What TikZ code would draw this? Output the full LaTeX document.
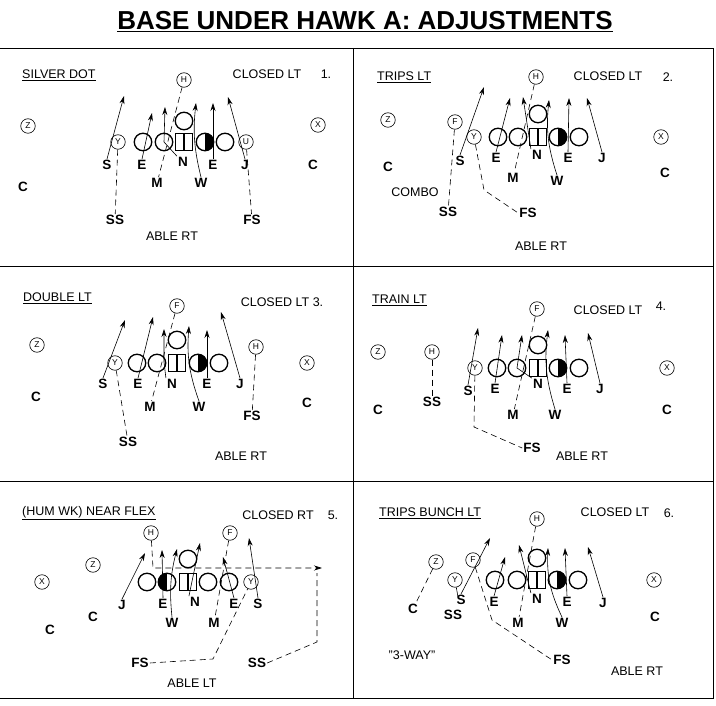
\documentclass[tikz,border=0pt]{standalone}
\usepackage{fontspec}
\setmainfont{Liberation Sans}
\usetikzlibrary{arrows.meta}
\tikzset{
  pl/.style={circle, draw, line width=0.6pt, minimum size=14.5pt, inner sep=0pt, font=\fontsize{8.5}{8.5}\selectfont},
  ln/.style={circle, draw, line width=1.3pt, minimum size=17.5pt, inner sep=0pt},
  hf/.style={ln, path picture={\fill (path picture bounding box.north) rectangle (path picture bounding box.south east);}},
  hfl/.style={ln, path picture={\fill (path picture bounding box.north) rectangle (path picture bounding box.south west);}},
  sq/.style={rectangle, draw, line width=1.3pt, minimum size=17pt, inner sep=0pt, path picture={\draw[line width=1.3pt] (path picture bounding box.north) -- (path picture bounding box.south);}},
  lb/.style={font=\fontsize{13.5}{14}\selectfont\bfseries, inner sep=1pt},
  tx/.style={font=\fontsize{12.5}{13}\selectfont, inner sep=1pt},
  hd/.style={tx, anchor=west},
  mv/.style={-{Stealth[length=8pt,width=5pt]}, line width=0.6pt},
  dsh/.style={dash pattern=on 6pt off 4pt, line width=0.6pt},
  frm/.style={line width=0.9pt},
}
\begin{document}
\begin{tikzpicture}[x=1pt, y=-1pt]
  \useasboundingbox (0,0) rectangle (716,706);
  \node[font=\fontsize{26}{28}\selectfont\bfseries] (top) at (365,22) {\underline{BASE UNDER HAWK A: ADJUSTMENTS}};
  % frame
  \draw[frm] (0,48) -- (713,48) -- (713,698) -- (0,698);
  \draw[frm] (0,266) -- (713,266);
  \draw[frm] (0,481) -- (713,481);
  \draw[frm] (353,48) -- (353,698);

  % 1 silver dot
  \node[hd] (t1) at (21,75) {\underline{SILVER DOT}};
  \node[tx] (k1) at (267,74) {CLOSED LT};
  \node[tx] (nr1) at (326,74) {1.};
  \node[pl] (h1) at (184,80) {H};
  \node[pl] (z1) at (28,126) {Z};
  \node[pl] (x1) at (318,125) {X};
  \node[pl] (y1) at (118,142) {Y};
  \node[ln] (o1a) at (143,142) {};
  \node[ln] (o1b) at (164,142) {};
  \node[sq] (o1c) at (184,142) {};
  \node[hf] (o1d) at (205,142) {};
  \node[ln] (o1e) at (225,142) {};
  \node[pl] (u1) at (246,142) {U};
  \node[ln] (q1) at (184,121) {};
  \node[lb] (s1) at (107,165) {S};
  \node[lb] (el1) at (142,165) {E};
  \node[lb] (n1) at (183,162) {N};
  \node[lb] (er1) at (213,165) {E};
  \node[lb] (j1) at (245,165) {J};
  \node[lb] (m1) at (157,183) {M};
  \node[lb] (w1) at (201,183) {W};
  \node[lb] (cl1) at (23,187) {C};
  \node[lb] (cr1) at (313,165) {C};
  \node[lb] (ss1) at (115,220) {SS};
  \node[lb] (fs1) at (252,220) {FS};
  \node[tx] (ab1) at (172,236) {ABLE RT};
  \coordinate (ts1) at (124,96);
  \coordinate (te1) at (152,113);
  \coordinate (tn1) at (165,107);
  \coordinate (tw1) at (196,103);
  \coordinate (tr1) at (213,103);
  \coordinate (tj1) at (228,97);
  \draw[mv] (s1.north) -- (ts1);
  \draw[mv] (el1.north) -- (te1);
  \draw[mv] (n1.north west) -- (o1b.center) -- (tn1);
  \draw[mv] (w1.north) to[bend left=10] (tw1);
  \draw[mv] (er1.north) -- (tr1);
  \draw[mv] (j1.north) -- (tj1);
  \draw[dsh] (h1) -- (m1);
  \draw[dsh] (y1) -- (ss1);
  \draw[dsh] (u1) -- (fs1);

  % 2 trips lt
  \node[hd] (t2) at (376,77) {\underline{TRIPS LT}};
  \node[pl] (h2) at (536,77) {H};
  \node[tx] (k2) at (608,76) {CLOSED LT};
  \node[tx] (nr2) at (668,77) {2.};
  \node[pl] (z2) at (388,120) {Z};
  \node[pl] (f2) at (455,122) {F};
  \node[pl] (y2) at (474,137) {Y};
  \node[ln] (o2a) at (498,137) {};
  \node[ln] (o2b) at (518,137) {};
  \node[sq] (o2c) at (538,137) {};
  \node[hf] (o2d) at (558,137) {};
  \node[ln] (o2e) at (579,137) {};
  \node[ln] (q2) at (538,114) {};
  \node[pl] (x2) at (661,137) {X};
  \node[lb] (s2) at (460,161) {S};
  \node[lb] (el2) at (496,158) {E};
  \node[lb] (n2) at (537,155) {N};
  \node[lb] (er2) at (568,158) {E};
  \node[lb] (j2) at (602,158) {J};
  \node[lb] (m2) at (513,178) {M};
  \node[lb] (w2) at (557,181) {W};
  \node[lb] (cl2) at (388,167) {C};
  \node[lb] (cr2) at (665,173) {C};
  \node[tx] (cb2) at (415,192) {COMBO};
  \node[lb] (ss2) at (448,212) {SS};
  \node[lb] (fs2) at (528,213) {FS};
  \node[tx] (ab2) at (541,246) {ABLE RT};
  \coordinate (ts2) at (484,87);
  \coordinate (te2) at (510,98);
  \coordinate (tn2) at (523,97);
  \coordinate (tw2) at (549,100);
  \coordinate (tr2) at (569,98);
  \coordinate (tj2) at (587,98);
  \coordinate (b2) at (484,190);
  \draw[mv] (s2.north) -- (ts2);
  \draw[mv] (el2.north) -- (te2);
  \draw[mv] (n2.north west) -- (tn2);
  \draw[mv] (w2.north) to[bend left=12] (tw2);
  \draw[mv] (er2.north) -- (tr2);
  \draw[mv] (j2.north) -- (tj2);
  \draw[dsh] (h2) -- (m2);
  \draw[dsh] (f2) -- (ss2);
  \draw[dsh] (y2) -- (b2) -- (fs2.west);

  % 3 double lt
  \node[hd] (t3) at (22,298) {\underline{DOUBLE LT}};
  \node[pl] (f3) at (177,306) {F};
  \node[tx] (k3) at (282,302) {CLOSED LT 3.};
  \node[pl] (z3) at (37,345) {Z};
  \node[pl] (h3) at (256,347) {H};
  \node[pl] (x3) at (307,363) {X};
  \node[pl] (y3) at (115,363) {Y};
  \node[ln] (o3a) at (137,363) {};
  \node[ln] (o3b) at (157,363) {};
  \node[sq] (o3c) at (177,363) {};
  \node[hf] (o3d) at (198,363) {};
  \node[ln] (o3e) at (219,363) {};
  \node[ln] (q3) at (177,340) {};
  \node[lb] (s3) at (103,384) {S};
  \node[lb] (el3) at (138,384) {E};
  \node[lb] (n3) at (172,384) {N};
  \node[lb] (er3) at (207,384) {E};
  \node[lb] (j3) at (240,384) {J};
  \node[lb] (m3) at (150,407) {M};
  \node[lb] (w3) at (199,407) {W};
  \node[lb] (cl3) at (36,397) {C};
  \node[lb] (cr3) at (307,403) {C};
  \node[lb] (fs3) at (252,416) {FS};
  \node[lb] (ss3) at (128,442) {SS};
  \node[tx] (ab3) at (241,456) {ABLE RT};
  \coordinate (ts3) at (125,320);
  \coordinate (te3) at (153,317);
  \coordinate (tn3) at (164,329);
  \coordinate (tw3) at (189,326);
  \coordinate (tr3) at (207,330);
  \coordinate (tj3) at (221,312);
  \coordinate (b3) at (164,362);
  \draw[mv] (s3.north) -- (ts3);
  \draw[mv] (el3.north) -- (te3);
  \draw[mv] (n3.north west) -- (b3) -- (tn3);
  \draw[mv] (w3.north) to[bend left=12] (tw3);
  \draw[mv] (er3.north) -- (tr3);
  \draw[mv] (j3.north) -- (tj3);
  \draw[dsh] (f3) -- (m3);
  \draw[dsh] (y3) -- (ss3);
  \draw[dsh] (h3) -- (fs3);

  % 4 train lt
  \node[hd] (t4) at (371,300) {\underline{TRAIN LT}};
  \node[pl] (f4) at (537,309) {F};
  \node[tx] (k4) at (608,310) {CLOSED LT};
  \node[tx] (nr4) at (661,306) {4.};
  \node[pl] (z4) at (378,352) {Z};
  \node[pl] (h4) at (432,352) {H};
  \node[pl] (x4) at (667,368) {X};
  \node[pl] (y4) at (475,368) {Y};
  \node[ln] (o4a) at (497,368) {};
  \node[ln] (o4b) at (517,368) {};
  \node[sq] (o4c) at (538,368) {};
  \node[hf] (o4d) at (558,368) {};
  \node[ln] (o4e) at (579,368) {};
  \node[ln] (q4) at (538,345) {};
  \node[lb] (s4) at (468,391) {S};
  \node[lb] (el4) at (495,389) {E};
  \node[lb] (n4) at (538,384) {N};
  \node[lb] (er4) at (567,389) {E};
  \node[lb] (j4) at (600,389) {J};
  \node[lb] (m4) at (513,415) {M};
  \node[lb] (w4) at (555,415) {W};
  \node[lb] (ss4) at (432,402) {SS};
  \node[lb] (cl4) at (378,410) {C};
  \node[lb] (cr4) at (667,410) {C};
  \node[lb] (fs4) at (532,448) {FS};
  \node[tx] (ab4) at (582,456) {ABLE RT};
  \coordinate (ts4) at (478,328);
  \coordinate (te4) at (502,335);
  \coordinate (tn4) at (522,335);
  \coordinate (tw4) at (548,330);
  \coordinate (tr4) at (565,335);
  \coordinate (tj4) at (588,333);
  \coordinate (b4) at (474,427);
  \draw[mv] (s4.north) -- (ts4);
  \draw[mv] (el4.north) -- (te4);
  \draw[mv] (n4.north west) -- (o4b.center) -- (tn4);
  \draw[mv] (w4.north) to[bend left=12] (tw4);
  \draw[mv] (er4.north) -- (tr4);
  \draw[mv] (j4.north) -- (tj4);
  \draw[dsh] (f4) -- (m4);
  \draw[dsh] (h4) -- (ss4);
  \draw[dsh] (y4) -- (b4) -- (fs4.west);

  % 5 (hum wk) near flex
  \node[hd] (t5) at (21,513) {\underline{(HUM WK) NEAR FLEX}};
  \node[tx] (k5) at (278,515) {CLOSED RT};
  \node[tx] (nr5) at (333,515) {5.};
  \node[pl] (h5) at (151,533) {H};
  \node[pl] (f5) at (230,533) {F};
  \node[pl] (z5) at (93,565) {Z};
  \node[pl] (x5) at (42,582) {X};
  \node[ln] (o5a) at (147,582) {};
  \node[hfl] (o5b) at (167,582) {};
  \node[sq] (o5c) at (188,582) {};
  \node[ln] (o5d) at (208,582) {};
  \node[ln] (o5e) at (229,582) {};
  \node[pl] (y5) at (251,582) {Y};
  \node[ln] (q5) at (188,559) {};
  \node[lb] (j5) at (122,605) {J};
  \node[lb] (el5) at (163,604) {E};
  \node[lb] (n5) at (195,602) {N};
  \node[lb] (er5) at (234,604) {E};
  \node[lb] (s5) at (258,604) {S};
  \node[lb] (w5) at (172,623) {W};
  \node[lb] (m5) at (214,623) {M};
  \node[lb] (cr5) at (93,617) {C};
  \node[lb] (cl5) at (50,630) {C};
  \node[lb] (fs5) at (140,663) {FS};
  \node[lb] (ss5) at (257,663) {SS};
  \node[tx] (ab5) at (192,683) {ABLE LT};
  \coordinate (tj5) at (145,553);
  \coordinate (te5) at (162,550);
  \coordinate (tw5) at (177,549);
  \coordinate (tn5) at (200,543);
  \coordinate (tr5) at (223,557);
  \coordinate (ts5) at (249,538);
  \coordinate (b5h) at (153,568);
  \coordinate (tp5) at (322,568);
  \coordinate (b5s) at (317,642);
  \coordinate (b5t) at (317,573);
  \coordinate (b5f) at (213,659);
  \draw[mv] (j5.north) -- (tj5);
  \draw[mv] (el5.north) -- (te5);
  \draw[mv] (w5.north) to[bend left=10] (tw5);
  \draw[mv] (n5.north west) -- (tn5);
  \draw[mv] (er5.north) -- (tr5);
  \draw[mv] (s5.north) -- (ts5);
  \draw[mv, dsh] (h5) -- (b5h) -- (tp5);
  \draw[dsh] (f5) -- (m5);
  \draw[dsh] (ss5.east) -- (b5s) -- (b5t);
  \draw[dsh] (fs5.east) -- (b5f) -- (y5);

  % 6 trips bunch lt
  \node[hd] (t6) at (378,513) {\underline{TRIPS BUNCH LT}};
  \node[pl] (h6) at (537,519) {H};
  \node[tx] (k6) at (615,512) {CLOSED LT};
  \node[tx] (nr6) at (669,513) {6.};
  \node[pl] (z6) at (436,562) {Z};
  \node[pl] (f6) at (473,560) {F};
  \node[pl] (y6) at (455,580) {Y};
  \node[pl] (x6) at (654,580) {X};
  \node[ln] (o6a) at (495,580) {};
  \node[ln] (o6b) at (517,580) {};
  \node[sq] (o6c) at (537,580) {};
  \node[hf] (o6d) at (557,580) {};
  \node[ln] (o6e) at (578,580) {};
  \node[ln] (q6) at (537,558) {};
  \node[lb] (s6) at (461,600) {S};
  \node[lb] (el6) at (494,602) {E};
  \node[lb] (n6) at (537,599) {N};
  \node[lb] (er6) at (567,602) {E};
  \node[lb] (j6) at (603,603) {J};
  \node[lb] (cl6) at (413,609) {C};
  \node[lb] (ss6) at (453,615) {SS};
  \node[lb] (m6) at (518,623) {M};
  \node[lb] (w6) at (562,623) {W};
  \node[lb] (cr6) at (655,617) {C};
  \node[tx] (wy6) at (412,655) {"3-WAY"};
  \node[lb] (fs6) at (562,660) {FS};
  \node[tx] (ab6) at (637,671) {ABLE RT};
  \coordinate (ts6) at (490,538);
  \coordinate (te6) at (505,557);
  \coordinate (tn6) at (519,545);
  \coordinate (tw6) at (548,548);
  \coordinate (tr6) at (565,548);
  \coordinate (tj6) at (588,547);
  \coordinate (b6) at (492,620);
  \coordinate (b6s) at (458,597);
  \draw[mv] (s6.north) -- (ts6);
  \draw[mv] (el6.north) -- (te6);
  \draw[mv] (n6.north west) -- (tn6);
  \draw[mv] (w6.north) to[bend left=14] (tw6);
  \draw[mv] (er6.north) -- (tr6);
  \draw[mv] (j6.north) -- (tj6);
  \draw[line width=0.6pt] (y6) -- (b6s);
  \draw[dsh] (h6) -- (m6);
  \draw[dsh] (z6) -- (cl6);
  \draw[dsh] (f6) -- (b6) -- (fs6.west);
\end{tikzpicture}
\end{document}
